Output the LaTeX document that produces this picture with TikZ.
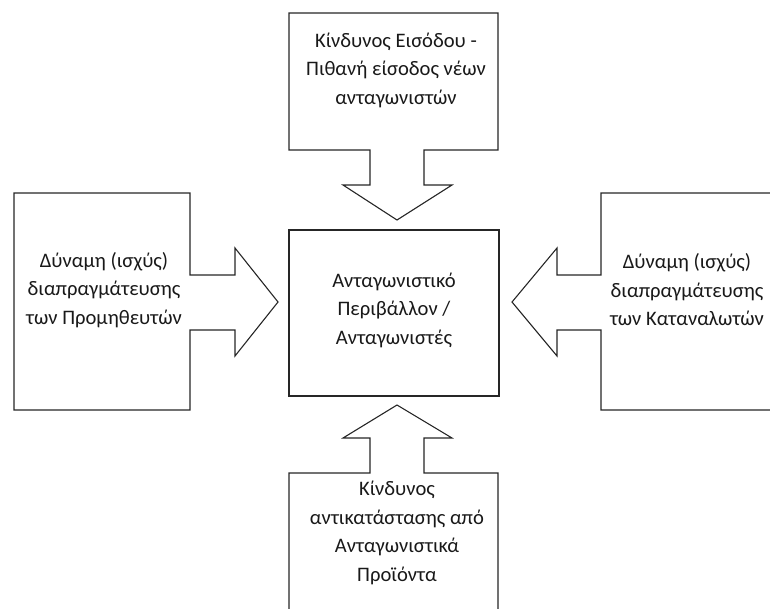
\documentclass[tikz,border=0pt]{standalone}
\usepackage{fontspec}
\setmainfont{Carlito}
\begin{document}
\begin{tikzpicture}[x=1pt,y=-1pt,
  shp/.style={draw=black!85,line width=1.1pt,fill=white,line join=miter},
  lbl/.style={align=center,font=\fontsize{20.6}{28.5}\selectfont,inner sep=0pt,text=black!90}]
\useasboundingbox (0,0) rectangle (770,608);
\begin{scope}
\clip (0,0) rectangle (770,608);
% top callout
\draw[shp] (289,13) -- (498,13) -- (498,150) -- (424,150) -- (424,185) -- (452,185) -- (397,220) -- (343,185) -- (370,185) -- (370,150) -- (289,150) -- cycle;
% left callout
\draw[shp] (14,193) -- (190,193) -- (190,275) -- (235,275) -- (235,248) -- (278,302) -- (235,356) -- (235,330) -- (190,330) -- (190,410) -- (14,410) -- cycle;
% right callout
\draw[shp] (780,193) -- (601,193) -- (601,275) -- (557,275) -- (557,248) -- (512,302) -- (557,356) -- (557,330) -- (601,330) -- (601,410) -- (780,410);
% bottom callout
\draw[shp] (289,620) -- (289,473) -- (370,473) -- (370,438) -- (343,438) -- (397,405) -- (452,438) -- (424,438) -- (424,473) -- (498,473) -- (498,620);
% center box
\node[shp,minimum width=210pt,minimum height=166pt,inner sep=0pt] (center) at (394,313) {};
\end{scope}
\node[lbl] (entry) at (396,70) {Κίνδυνος Εισόδου -\\Πιθανή είσοδος νέων\\ανταγωνιστών};
\node[lbl] (comp) at (394,310) {Ανταγωνιστικό\\Περιβάλλον /\\Ανταγωνιστές};
\node[lbl] (supp) at (104,290) {Δύναμη (ισχύς)\\διαπραγμάτευσης\\των Προμηθευτών};
\node[lbl] (cust) at (687,290) {Δύναμη (ισχύς)\\διαπραγμάτευσης\\των Καταναλωτών};
\node[lbl] (subs) at (397,533) {Κίνδυνος\\αντικατάστασης από\\Ανταγωνιστικά\\Προϊόντα};
\end{tikzpicture}
\end{document}
